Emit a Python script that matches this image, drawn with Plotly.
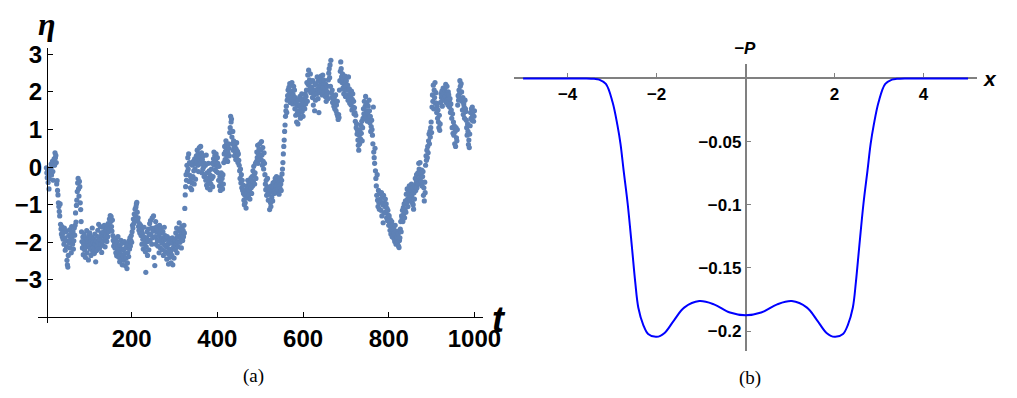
import plotly.graph_objects as go

# ---------------- panel (a): time series eta(t) ----------------
eta = [
    -0.02, -0.15, -0.28, -0.08, -0.41, -0.22, -0.58, -0.31, -0.19, -0.12,
    -0.05, 0.08, -0.21, 0.02, 0.15, -0.12, -0.35, 0.11, 0.22, 0.05,
    0.38, 0.25, 0.31, 0.12, -0.45, -0.36, -0.62, -0.74, -0.95, -1.05,
    -1.18, -1.3, -0.98, -1.52, -1.65, -1.78, -1.58, -1.85, -1.69, -1.92,
    -1.74, -2.05, -1.62, -1.88, -2.21, -1.95, -1.71, -2.12, -2.48, -2.6,
    -2.66, -2.35, -1.82, -2.02, -1.67, -2.15, -1.93, -1.78, -2.28, -1.58,
    -1.85, -2.05, -1.72, -2.18, -1.96, -1.62, -1.81, -1.55, -1.22, -1.46,
    -1.02, -0.88, -0.65, -0.42, -0.3, -0.58, -0.77, -0.38, -0.52, -0.95,
    -1.13, -1.45, -1.72, -1.98, -2.15, -1.86, -2.33, -2.05, -1.78, -2.2,
    -1.95, -2.4, -1.88, -2.12, -1.69, -2.28, -2.02, -1.92, -2.47, -1.81,
    -2.08, -1.75, -2.18, -1.97, -2.35, -1.85, -2.06, -1.62, -2.25, -2.01,
    -1.9, -2.14, -2.3, -1.78, -2.05, -2.52, -1.96, -2.22, -1.84, -2.1,
    -1.68, -2.0, -1.52, -1.87, -2.16, -1.93, -1.58, -2.05, -1.75, -2.27,
    -1.82, -1.6, -2.08, -1.73, -1.95, -1.55, -1.88, -2.12, -1.66, -1.92,
    -1.78, -1.98, -1.62, -1.85, -1.5, -1.72, -1.55, -1.38, -1.62, -1.29,
    -1.45, -1.32, -1.58, -1.7, -1.41, -1.82, -1.95, -2.1, -1.88, -2.02,
    -2.15, -1.92, -2.28, -2.05, -2.36, -1.98, -2.2, -1.85, -2.12, -2.4,
    -2.25, -2.52, -2.08, -2.31, -1.95, -2.45, -2.18, -2.6, -2.02, -2.35,
    -2.2, -2.48, -1.98, -2.3, -2.62, -2.15, -2.42, -2.05, -2.7, -2.55,
    -2.28, -2.05, -2.38, -1.96, -2.18, -1.88, -2.1, -1.95, -1.82, -2.0,
    -1.72, -1.55, -1.62, -1.38, -1.5, -1.25, -1.45, -1.12, -1.3, -1.06,
    -0.98, -0.94, -1.2, -1.42, -1.35, -1.58, -1.68, -1.5, -1.75, -1.62,
    -1.55, -1.82, -1.68, -2.05, -1.76, -1.92, -2.18, -1.85, -1.6, -2.05,
    -1.95, -2.25, -2.8, -2.12, -1.88, -1.72, -2.35, -1.98, -1.65, -2.2,
    -1.8, -1.5, -1.95, -1.42, -1.78, -1.62, -2.05, -1.35, -1.88, -1.7,
    -1.3, -2.4, -1.62, -2.62, -1.85, -1.45, -2.05, -1.72, -1.58, -1.95,
    -2.1, -1.68, -1.82, -2.28, -1.55, -1.95, -2.15, -1.75, -1.62, -2.02,
    -1.88, -2.2, -1.72, -2.35, -1.95, -1.6, -2.08, -1.82, -2.25, -1.92,
    -2.12, -2.45, -1.85, -2.3, -2.05, -2.58, -1.98, -2.18, -2.4, -1.9,
    -2.25, -2.55, -2.02, -2.35, -1.88, -2.6, -2.15, -1.95, -2.42, -2.08,
    -1.92, -2.2, -1.75, -2.05, -1.62, -2.28, -1.85, -1.98, -2.12, -1.7,
    -1.48, -1.82, -2.0, -1.65, -1.9, -2.15, -1.58, -1.78, -1.95, -1.68,
    -1.85, -1.55, -1.75, -1.1, -0.74, -0.52, -0.2, -0.35, 0.05, -0.12,
    0.25, -0.05, 0.35, -0.38, 0.12, -0.22, -0.55, 0.08, -0.3, -0.6,
    -0.42, 0.05, -0.25, 0.15, -0.1, -0.45, 0.22, -0.05, -0.32, 0.1,
    0.3, 0.15, 0.45, 0.05, 0.35, -0.12, 0.22, 0.52, 0.08, 0.28,
    0.55, 0.12, 0.38, -0.15, 0.2, -0.05, 0.3, 0.0, -0.25, 0.1,
    -0.2, 0.05, -0.35, 0.32, -0.48, -0.15, -0.55, -0.3, 0.1, -0.4,
    -0.1, -0.38, -0.6, -0.22, -0.45, -0.05, -0.3, 0.1, -0.52, -0.25,
    0.22, 0.4, 0.05, 0.3, -0.08, 0.15, 0.35, -0.12, 0.02, 0.25,
    0.1, -0.15, -0.35, 0.02, -0.5, -0.25, -0.62, -0.4, -0.15, -0.55,
    -0.3, -0.58, -0.2, -0.45, 0.12, 0.35, 0.55, 0.2, 0.42, 0.7,
    0.6, 0.28, 0.45, 0.15, 0.38, 0.62, 0.5, 0.3, 0.92, 1.05,
    1.35, 1.2, 1.28, 0.8, 0.62, 0.95, 0.45, 0.7, 0.52, 0.3,
    0.55, 0.38, 0.2, 0.48, 0.65, 0.3, 0.42, 0.12, 0.35, 0.18,
    0.05, -0.1, -0.3, -0.05, -0.42, -0.2, -0.55, -0.35, -0.62, -0.48,
    -0.7, -0.88, -1.0, -0.75, -0.95, -0.6, -1.09, -0.82, -0.5, -0.68,
    -0.35, -0.58, -0.75, -0.42, -0.62, -0.85, -0.48, -0.3, -0.55, -0.7,
    -0.25, -0.5, -0.1, -0.38, 0.02, -0.2, -0.45, -0.15, 0.1, -0.3,
    0.15, 0.4, 0.25, 0.58, 0.1, 0.35, 0.48, 0.2, 0.62, 0.3,
    0.45, 0.2, 0.68, 0.32, 0.05, 0.52, 0.15, -0.05, 0.38, 0.1,
    -0.2, -0.45, -0.6, -0.35, -0.75, -0.52, -0.3, -0.68, -0.88, -0.55,
    -0.72, -1.13, -0.6, -0.95, -1.05, -0.5, -0.8, -0.65, -0.9, -0.42,
    -0.55, -0.7, -0.4, -0.62, -0.3, -0.5, -0.68, -0.25, -0.58, -0.45,
    -0.6, -0.35, -0.48, -0.72, -0.4, -0.55, -0.28, -0.45, -0.62, -0.35,
    -0.18, -0.05, 0.12, 0.35, 0.55, 0.72, 0.95, 1.12, 1.35, 1.5,
    1.62, 1.45, 1.78, 1.9, 2.05, 1.85, 2.12, 1.95, 2.22, 1.72,
    1.98, 2.18, 1.82, 2.25, 2.02, 1.68, 1.92, 2.15, 1.75, 2.05,
    1.55, 1.85, 1.38, 1.72, 1.2, 1.62, 1.45, 1.15, 1.78, 1.5,
    1.4, 1.65, 1.88, 1.3, 1.55, 1.78, 1.95, 1.48, 1.7, 1.35,
    1.6, 1.82, 1.72, 1.55, 1.95, 1.68, 1.88, 2.05, 2.25, 1.75,
    2.45, 2.2, 2.58, 2.05, 2.32, 2.15, 2.48, 1.98, 2.28, 2.1,
    2.12, 1.85, 2.3, 1.65, 2.02, 1.92, 1.5, 2.2, 1.78, 2.05,
    2.22, 1.95, 2.4, 2.08, 1.82, 2.3, 1.45, 2.15, 1.98, 2.35,
    2.18, 2.42, 2.05, 2.28, 1.92, 2.45, 2.12, 2.32, 2.0, 2.22,
    2.08, 1.88, 2.2, 1.75, 2.02, 1.92, 2.15, 1.82, 2.32, 2.5,
    2.62, 2.38, 2.72, 2.15, 2.84, 1.98, 1.85, 2.05, 1.72, 1.9,
    1.78, 1.62, 1.85, 1.55, 1.7, 1.92, 1.5, 1.65, 1.42, 1.75,
    1.35, 1.27, 1.4, 1.32, 2.05, 2.3, 2.55, 2.8, 2.62, 2.4,
    2.25, 2.48, 2.1, 2.35, 1.95, 2.2, 2.05, 2.42, 1.88, 2.15,
    2.3, 2.05, 1.92, 2.18, 1.78, 2.4, 1.85, 2.08, 1.7, 1.95,
    1.88, 1.65, 2.02, 1.52, 1.8, 1.95, 1.6, 1.75, 1.42, 1.58,
    1.45, 1.22, 1.38, 1.05, 1.15, 0.88, 0.98, 0.72, 0.58, 0.45,
    0.85, 0.62, 1.0, 0.75, 1.12, 0.9, 1.22, 0.7, 1.05, 1.3,
    1.55, 1.42, 1.75, 1.28, 1.62, 1.88, 1.35, 1.5, 1.7, 1.22,
    1.45, 1.62, 1.3, 1.78, 1.5, 1.18, 1.35, 0.95, 1.08, 1.25,
    1.0, 0.85, 0.62, 1.6, 0.4, 0.25, 0.1, 0.5, -0.1, -0.3,
    -0.5, -0.75, -0.2, -0.88, -1.05, -0.62, -0.95, -1.12, -0.7, -0.85,
    -0.92, -1.15, -0.68, -1.3, -0.8, -1.0, -1.48, -0.75, -1.22, -0.95,
    -1.05, -0.85, -1.2, -0.98, -1.35, -1.1, -1.42, -1.15, -1.28, -1.55,
    -1.3, -1.52, -1.68, -1.4, -1.78, -1.6, -1.45, -1.85, -1.55, -1.72,
    -1.62, -1.9, -1.75, -1.98, -1.55, -1.82, -2.05, -1.7, -1.92, -1.85,
    -2.0, -1.78, -2.1, -2.14, -1.95, -1.88, -1.65, -1.45, -1.72, -1.3,
    -1.38, -1.15, -1.45, -1.08, -1.25, -0.98, -1.35, -1.12, -0.9, -1.2,
    -0.72, -0.95, -0.58, -0.85, -1.05, -0.65, -0.8, -0.5, -0.9, -0.7,
    -0.6, -0.82, -0.45, -0.75, -0.95, -0.55, -1.0, -1.12, -0.68, -0.85,
    -0.5, -0.3, -0.62, -0.42, -0.2, -0.55, -0.35, -0.15, -0.45, 0.1,
    -0.05, -0.3, 0.12, -0.45, -0.18, -0.38, -0.08, -0.5, -0.25, -0.12,
    -0.75, -0.55, -0.9, -0.4, -0.68, 0.05, 0.3, 0.18, 0.45, 0.25,
    0.55, 0.38, 0.7, 0.88, 0.62, 0.95, 0.8, 1.05, 1.2, 0.92,
    1.6, 1.92, 1.75, 2.18, 1.55, 2.05, 1.85, 2.25, 1.7, 1.98,
    1.7, 1.45, 1.62, 1.3, 1.52, 1.2, 1.05, 1.38, 0.98, 1.15,
    1.72, 1.95, 1.85, 2.02, 1.62, 1.9, 2.1, 1.78, 1.95, 1.82,
    2.05, 1.88, 2.2, 1.72, 1.98, 2.15, 1.8, 1.65, 2.0, 1.92,
    1.75, 1.6, 1.82, 1.45, 1.68, 1.52, 1.3, 1.05, 1.42, 0.9,
    1.2, 0.85, 1.1, 0.62, 0.95, 0.55, 1.05, 0.78, 0.7, 1.0,
    1.65, 1.9, 1.78, 2.05, 1.95, 2.3, 2.15, 1.82, 2.22, 2.0,
    1.75, 1.52, 1.85, 1.4, 1.68, 1.6, 1.3, 1.78, 1.55, 1.48,
    1.25, 1.05, 0.85, 1.15, 0.95, 0.6, 0.72, 0.52, 0.88, 1.1,
    1.45, 1.3, 1.55, 1.25, 1.6, 1.38, 1.48, 1.22, 1.35, 1.5,
]
t = list(range(1, len(eta) + 1))

t_ticks = [200, 400, 600, 800, 1000]
eta_ticks = [-3, -2, -1, 0, 1, 2, 3]

# ---------------- panel (b): -P(x) ----------------
x_vals = [-5.0, -4.5, -4.0, -3.6, -3.4, -3.29, -3.14, -2.99, -2.88, -2.81,
          -2.74, -2.65, -2.55, -2.48, -2.41, -2.30, -2.19, -2.0, -1.82, -1.60,
          -1.38, -1.04, -0.71, -0.35, 0.0,
          0.35, 0.71, 1.04, 1.38, 1.60, 1.82, 2.0, 2.19, 2.30, 2.41,
          2.48, 2.55, 2.65, 2.74, 2.81, 2.88, 2.99, 3.14, 3.29, 3.4,
          3.6, 4.0, 4.5, 5.0]
negP_vals = [0.0, 0.0, 0.0, 0.0, -0.0003, -0.001, -0.0044, -0.0187, -0.037, -0.052,
             -0.073, -0.099, -0.135, -0.161, -0.1815, -0.195, -0.2022, -0.2045, -0.2014, -0.191,
             -0.1814, -0.1762, -0.1788, -0.1853, -0.1874,
             -0.1853, -0.1788, -0.1762, -0.1814, -0.191, -0.2014, -0.2045, -0.2022, -0.195, -0.1815,
             -0.161, -0.135, -0.099, -0.073, -0.052, -0.037, -0.0187, -0.0044, -0.001, -0.0003,
             0.0, 0.0, 0.0, 0.0]
x_ticks = [-4, -2, 2, 4]
p_ticks = [-0.2, -0.15, -0.1, -0.05]
p_ticktext = ["\u22120.2", "\u22120.15", "\u22120.1", "\u22120.05"]

W, H = 1017, 398


def fx(px):
    return px / W


def fy(py):
    return 1 - py / H


fig = go.Figure()
fig.add_trace(go.Scatter(
    x=t, y=eta, mode="markers",
    marker=dict(color="#5E81B5", size=5.2, line=dict(width=0)),
    xaxis="x", yaxis="y", showlegend=False, hoverinfo="skip"))
fig.add_trace(go.Scatter(
    x=x_vals, y=negP_vals, mode="lines",
    line=dict(color="#0000FF", width=2, shape="spline", smoothing=1.0),
    xaxis="x2", yaxis="y2", showlegend=False, hoverinfo="skip"))

sans = "Liberation Sans"
tickfont_a = dict(family=sans, size=24, color="black", weight="bold")
tickfont_b = dict(family=sans, size=17, color="black", weight="bold")

fig.update_layout(
    width=W, height=H, autosize=False,
    margin=dict(l=0, r=0, t=0, b=0),
    paper_bgcolor="white", plot_bgcolor="white",
    xaxis=dict(domain=[fx(38.7), fx(491.7)], range=[-18.6, 1020],
               anchor="free", position=fy(316),
               showline=True, linecolor="black", linewidth=1,
               ticks="inside", ticklen=5, tickcolor="black", tickwidth=1,
               tickvals=t_ticks, tickfont=tickfont_a,
               showgrid=False, zeroline=False),
    yaxis=dict(domain=[fy(321.7), fy(41.7)], range=[-4.149, 3.17],
               anchor="free", position=fx(47.7),
               showline=True, linecolor="black", linewidth=1,
               ticks="inside", ticklen=5, tickcolor="black", tickwidth=1,
               tickvals=eta_ticks, tickfont=tickfont_a,
               showgrid=False, zeroline=False),
    xaxis2=dict(domain=[fx(523), fx(995)], range=[-5.21, 5.21],
                anchor="free", position=fy(72.7),
                showline=True, linecolor="#808080", linewidth=1.5,
                ticks="inside", ticklen=5, tickcolor="#808080", tickwidth=1,
                tickvals=x_ticks, tickfont=tickfont_b,
                showgrid=False, zeroline=False, layer="below traces"),
    yaxis2=dict(domain=[fy(350), fy(58.3)], range=[-0.2156, 0.0112],
                anchor="free", position=fx(759),
                showline=True, linecolor="#808080", linewidth=1.5,
                ticks="inside", ticklen=5, tickcolor="#808080", tickwidth=1,
                tickvals=p_ticks, ticktext=p_ticktext, tickfont=tickfont_b,
                showgrid=False, zeroline=False, layer="below traces"),
)


def label(text, px, py, size, family=sans):
    fig.add_annotation(text=text, x=fx(px), y=fy(py), xref="paper", yref="paper",
                       showarrow=False, xanchor="center", yanchor="middle",
                       font=dict(family=family, size=size, color="black"))


label("<b><i>\u03b7</i></b>", 47.5, 17, 32, family="Liberation Serif")
label("<b><i>t</i></b>", 508, 318, 36)
label("<b><i>\u2212P</i></b>", 758.5, 42, 17)
label("<b><i>x</i></b>", 1008, 73, 21)
label("(a)", 258.5, 376, 19, family="Liberation Serif")
label("(b)", 764, 378, 19, family="Liberation Serif")

fig.write_html(
    "out.html",
    config={"responsive": False, "displayModeBar": False},
    post_script="document.body.style.margin='0';document.body.style.overflow='hidden';",
)
